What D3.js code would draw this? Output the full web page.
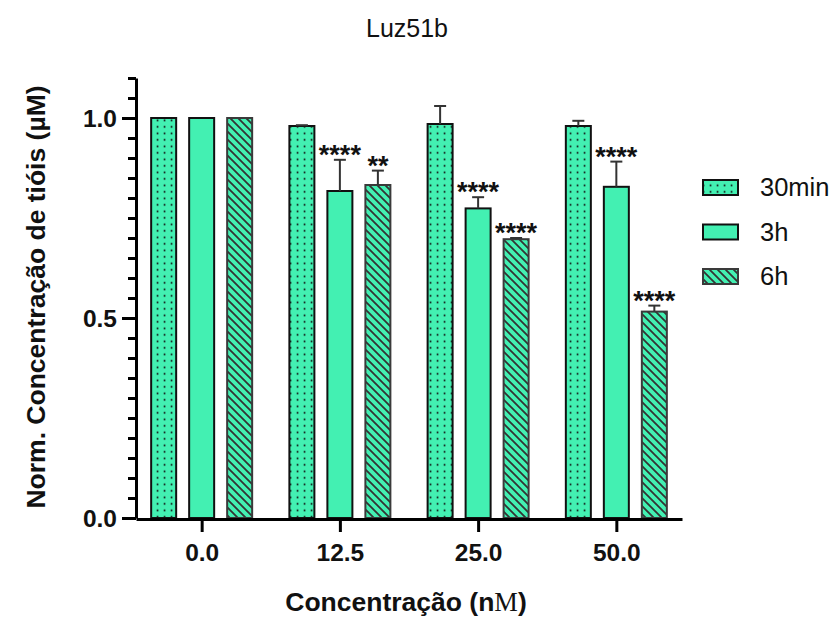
<!DOCTYPE html>
<html>
<head>
<meta charset="utf-8">
<script src="https://cdn.jsdelivr.net/npm/d3@7"></script>
<style>
  html, body { margin: 0; padding: 0; background: #fff; }
  svg { display: block; font-family: Arial, "Liberation Sans", sans-serif; }
</style>
</head>
<body>
<svg id="chart" width="832" height="620"></svg>
<script>
// ---- data ----
const categories = ["0.0", "12.5", "25.0", "50.0"];
const seriesNames = ["30min", "3h", "6h"];
const mean30min = [1.0, 0.98, 0.985, 0.98];
const sd30min   = [0, 0.002, 0.045, 0.013];
const mean3h    = [1.0, 0.8175, 0.774, 0.828];
const sd3h      = [0, 0.078, 0.028, 0.063];
const mean6h    = [1.0, 0.8325, 0.697, 0.516];
const sd6h      = [0, 0.036, 0.003, 0.015];
const sig30min  = ["", "", "", ""];
const sig3h     = ["", "****", "****", "****"];
const sig6h     = ["", "**", "****", "****"];
const yTickValues = [0.0, 0.5, 1.0];
const titleText = "Luz51b";

const series = [
  { name: seriesNames[0], mean: mean30min, sd: sd30min, sig: sig30min, fill: "url(#dots)", stroke: "#111" },
  { name: seriesNames[1], mean: mean3h, sd: sd3h, sig: sig3h, fill: "#43F0B2", stroke: "#111" },
  { name: seriesNames[2], mean: mean6h, sd: sd6h, sig: sig6h, fill: "url(#hatch)", stroke: "#3a3a3a" }
];

const GREEN = "#43F0B2";
const svg = d3.select("#chart");

// patterns
const defs = svg.append("defs");
const pd = defs.append("pattern").attr("id", "dots").attr("patternUnits", "userSpaceOnUse")
  .attr("width", 7).attr("height", 6.5);
pd.append("rect").attr("width", 7).attr("height", 6.5).attr("fill", GREEN);
pd.append("rect").attr("x", 2.7).attr("y", 2.5).attr("width", 1.7).attr("height", 1.7).attr("fill", "#111");

const ph = defs.append("pattern").attr("id", "hatch").attr("patternUnits", "userSpaceOnUse")
  .attr("width", 8).attr("height", 8);
ph.append("rect").attr("width", 8).attr("height", 8).attr("fill", GREEN);
ph.append("path").attr("d", "M-2,-2 L10,10 M-2,6 L2,10 M6,-2 L10,2")
  .attr("stroke", "#333").attr("stroke-width", 1.8);

// scales
const x0 = d3.scalePoint().domain(categories).range([136, 682]).padding(0.475);
const x1 = d3.scaleBand().domain(seriesNames).range([-50.5, 50.5]).paddingInner(0.342);
const y = d3.scaleLinear().domain([0, 1.1]).range([518, 78]);

// bars
const g = svg.append("g");
series.forEach(s => {
  const sg = g.append("g");
  categories.forEach((c, i) => {
    const bx = x0(c) + x1(s.name);
    const bw = x1.bandwidth();
    sg.append("rect")
      .attr("x", bx).attr("y", y(s.mean[i]))
      .attr("width", bw).attr("height", y(0) - y(s.mean[i]))
      .attr("fill", s.fill).attr("stroke", s.stroke).attr("stroke-width", 2);
    const cx = bx + bw / 2;
    if (s.sd[i] > 0) {
      const top = y(s.mean[i] + s.sd[i]);
      sg.append("line").attr("x1", cx).attr("x2", cx).attr("y1", y(s.mean[i])).attr("y2", top)
        .attr("stroke", "#333").attr("stroke-width", 2);
      sg.append("line").attr("x1", cx - 6).attr("x2", cx + 6).attr("y1", top).attr("y2", top)
        .attr("stroke", "#333").attr("stroke-width", 2);
    }
    if (s.sig[i]) {
      sg.append("text").attr("x", cx).attr("y", y(s.mean[i] + s.sd[i]) - 11 + 15)
        .attr("text-anchor", "middle").attr("font-size", 27).attr("font-weight", "bold")
        .attr("fill", "#111").text(s.sig[i]);
    }
  });
});

// y axis
const yMinor = d3.range(0, 1.1 + 1e-9, 0.05);
svg.append("g").attr("transform", "translate(136,0)")
  .call(d3.axisLeft(y).tickValues(yMinor).tickSize(8).tickFormat(""))
  .call(a => a.select(".domain").remove())
  .call(a => a.selectAll("line").attr("stroke", "#000").attr("stroke-width", 3));
const yAxis = svg.append("g").attr("transform", "translate(136,0)")
  .call(d3.axisLeft(y).tickValues(yTickValues).tickSize(14).tickSizeOuter(0).tickFormat(d3.format(".1f")));
yAxis.select(".domain").attr("stroke", "#000").attr("stroke-width", 3);
yAxis.selectAll("line").attr("stroke", "#000").attr("stroke-width", 3);
yAxis.selectAll("text").attr("font-size", 24.5).attr("font-weight", "bold").attr("fill", "#111")
  .attr("font-family", "Arial, 'Liberation Sans', sans-serif").attr("x", -19).attr("dy", "0.35em");

// x axis
const xAxis = svg.append("g").attr("transform", "translate(0,519)")
  .call(d3.axisBottom(x0).tickSize(13).tickSizeOuter(0));
xAxis.select(".domain").attr("stroke", "#000").attr("stroke-width", 3);
xAxis.selectAll("line").attr("stroke", "#000").attr("stroke-width", 3);
xAxis.selectAll("text").attr("font-size", 24.5).attr("font-weight", "bold").attr("fill", "#111")
  .attr("font-family", "Arial, 'Liberation Sans', sans-serif").attr("y", 25).attr("dy", "0.71em");

// title
svg.append("text").attr("x", 407).attr("y", 37).attr("text-anchor", "middle")
  .attr("font-size", 25).attr("fill", "#111").text(titleText);

// y label
svg.append("text").attr("transform", "translate(45,297) rotate(-90)").attr("text-anchor", "middle")
  .attr("font-size", 26.5).attr("font-weight", "bold").attr("fill", "#111")
  .text("Norm. Concentração de tióis (µM)");

// x label
const xl = svg.append("text").attr("x", 406).attr("y", 611).attr("text-anchor", "middle")
  .attr("font-size", 26.5).attr("font-weight", "bold").attr("fill", "#111");
xl.append("tspan").text("Concentração (n");
xl.append("tspan").attr("font-family", "'Liberation Serif', 'DejaVu Serif', serif").attr("font-weight", "normal").text("M");
xl.append("tspan").text(")");

// legend
const lg = svg.append("g");
series.forEach((s, i) => {
  const ly = 180 + i * 44.5;
  lg.append("rect").attr("x", 703).attr("y", ly).attr("width", 35).attr("height", 15)
    .attr("fill", s.fill).attr("stroke", s.stroke).attr("stroke-width", 2);
  lg.append("text").attr("x", 760).attr("y", ly + 7.5).attr("dy", "0.35em")
    .attr("font-size", 25.5).attr("fill", "#111").text(s.name);
});
</script>
</body>
</html>
